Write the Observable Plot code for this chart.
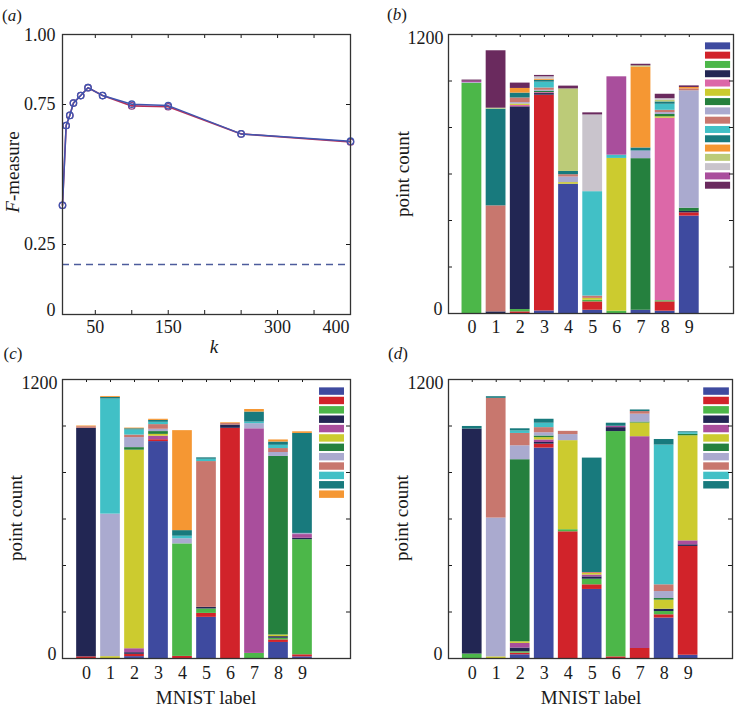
<!DOCTYPE html>
<html><head><meta charset="utf-8">
<script src="https://cdn.jsdelivr.net/npm/d3@7"></script>
<script src="https://cdn.jsdelivr.net/npm/@observablehq/plot@0.6"></script>
<style>
body{margin:0;background:#fff;}
#root{position:relative;width:737px;height:706px;font-family:'Liberation Serif',serif;color:#1a1a1a;overflow:hidden;background:#fff}
#root svg, #root svg text{font-family:'Liberation Serif',serif !important}
.pl{position:absolute}
.lab{position:absolute;white-space:nowrap;line-height:1;transform:translate(-50%,-50%);font-family:'Liberation Serif',serif}
.rot{transform:translate(-50%,-50%) rotate(-90deg)}
</style></head><body><div id="root"></div>
<script>
// ---------- Panel (a) data ----------
const kValues = [5, 10, 15, 20, 30, 40, 60, 100, 150, 250, 400];
const fMeasureBlue = [0.390, 0.675, 0.711, 0.755, 0.782, 0.810, 0.782, 0.751, 0.746, 0.645, 0.619];
const fMeasureRed  = [0.390, 0.675, 0.711, 0.755, 0.782, 0.810, 0.782, 0.745, 0.742, 0.645, 0.616];
const fBaseline = 0.179;
const kTickLabels = [50, 150, 300];
const kTickLast = [400];
const kMinorTicks = [50, 100, 150, 200, 250, 300, 350];
const fTicks = [0.25, 0.75];

// ---------- Panels (b)-(d) data ----------
const digits = [0, 1, 2, 3, 4, 5, 6, 7, 8, 9];
const countTicks = [200, 400, 600, 800, 1000];
const colorsB = ["#3e4a9f","#d1232a","#4cb749","#222653","#dc68a8","#cccb2f","#25803e","#aaaacf",
                 "#c8776e","#41c0c6","#187a7d","#f59733","#bccb78","#c9c4cc","#a94e9c","#6a2a5e"];
const colorsC = ["#3e4a9f","#d1232a","#4cb749","#222653","#a94e9c","#cccb2f","#25803e","#aaaacf",
                 "#c8776e","#41c0c6","#187a7d","#f59733"];
const colorsD = ["#3e4a9f","#d1232a","#4cb749","#222653","#a94e9c","#cccb2f","#25803e","#aaaacf",
                 "#c8776e","#41c0c6","#187a7d"];
// rows: MNIST digit 0..9, columns: cluster index (stack order bottom -> top)
const countsB = [
  [0,0,990,0,0,0,0,3,0,0,0,0,0,0,6,5],
  [0,0,0,7,0,0,0,0,456,0,416,0,4,0,0,247],
  [0,7,10,872,6,6,0,6,20,0,21,20,0,0,0,23],
  [11,928,0,7,4,0,6,4,10,25,8,5,0,10,0,6],
  [556,0,0,0,0,7,0,24,10,0,14,0,355,0,0,12],
  [14,36,7,0,0,8,0,0,10,449,0,0,0,330,0,9],
  [0,0,10,0,0,657,0,0,0,14,0,0,0,0,337,0],
  [14,0,0,0,0,0,652,33,0,0,13,348,5,0,0,7],
  [10,40,5,0,785,6,10,8,10,26,10,0,7,7,0,19],
  [419,14,0,6,0,0,14,505,8,0,0,6,0,0,0,7]
];
const countsC = [
  [0,7,0,983,0,0,0,0,7,0,0,3],
  [0,0,0,0,0,8,0,613,0,495,7,4],
  [8,10,0,7,17,854,11,43,11,22,5,3],
  [933,8,0,0,15,8,12,10,20,10,8,5],
  [0,9,484,0,0,0,0,22,0,11,24,430],
  [177,17,19,7,0,0,0,0,627,10,6,0],
  [0,990,0,14,0,0,0,0,7,0,0,3],
  [0,0,22,0,966,0,0,22,0,7,43,11],
  [69,11,7,7,0,7,768,17,17,14,14,9],
  [7,9,495,6,16,0,0,5,0,0,430,7]
];
const countsD = [
  [0,0,19,968,0,0,0,0,0,0,11],
  [0,0,0,0,0,7,0,597,515,0,7],
  [16,7,6,16,20,7,783,60,53,11,9],
  [905,17,0,7,11,10,7,14,22,19,17],
  [0,545,9,0,0,383,0,26,14,0,0],
  [297,20,24,10,8,7,0,0,4,0,492],
  [0,7,969,17,6,0,0,0,0,0,13],
  [0,43,0,0,911,59,4,34,11,0,7],
  [174,14,14,10,0,39,7,30,29,601,24],
  [14,468,0,7,17,452,6,0,0,7,4]
];

const FONT = "'Liberation Serif', serif";
const INK = "#1a1a1a";
const root = document.getElementById("root");

function place(node, left, top) {
  node.classList.add("pl");
  node.style.left = left + "px";
  node.style.top = top + "px";
  root.appendChild(node);
}
function label(html, cx, cy, size, rotate) {
  const d = document.createElement("div");
  d.className = "lab" + (rotate ? " rot" : "");
  d.innerHTML = html;
  d.style.left = cx + "px";
  d.style.top = cy + "px";
  d.style.fontSize = size + "px";
  root.appendChild(d);
}
const AX = {tickSize: 0, label: null, fontFamily: FONT, fontSize: 18, fill: INK};

// ---------- Panel (a) ----------
{
  const W = 370, H = 360, mL = 62, mR = 20, mT = 34, mB = 46;
  const fw = W - mL - mR, fh = H - mT - mB;
  const rows = kValues.map((k, i) => ({k, blue: fMeasureBlue[i], red: fMeasureRed[i]}));
  const p = Plot.plot({
    width: W, height: H, marginLeft: mL, marginRight: mR, marginTop: mT, marginBottom: mB,
    x: {domain: [5, 400], label: null},
    y: {domain: [0, 1], label: null},
    style: {fontFamily: FONT, fontSize: "18px", color: INK, background: "transparent", overflow: "visible"},
    marks: [
      Plot.ruleY([fBaseline], {stroke: "#4d5c9c", strokeWidth: 1.5, strokeDasharray: "7,5"}),
      Plot.line(rows, {x: "k", y: "red", stroke: "#b8305a", strokeWidth: 1.6}),
      Plot.dot(rows, {x: "k", y: "red", r: 3.2, stroke: "#8a3a80", strokeWidth: 1.3, fill: "none"}),
      Plot.line(rows, {x: "k", y: "blue", stroke: "#3f56b0", strokeWidth: 1.5}),
      Plot.dot(rows, {x: "k", y: "blue", r: 3.2, stroke: "#3f56b0", strokeWidth: 1.3, fill: "none"}),
      Plot.tickY(fTicks, {y: d => d, stroke: INK, insetRight: fw - 4}),
      Plot.tickY(fTicks, {y: d => d, stroke: INK, insetLeft: fw - 4}),
      Plot.tickX(kMinorTicks, {x: d => d, stroke: INK, insetTop: fh - 4}),
      Plot.tickX(kMinorTicks, {x: d => d, stroke: INK, insetBottom: fh - 4}),
      Plot.frame({stroke: "#333", strokeWidth: 1.3}),
      Plot.axisY(fTicks, {...AX, tickPadding: 7, tickFormat: d3.format(".2f")}),
      Plot.axisY([0], {...AX, tickPadding: 7, tickFormat: d => "0", dy: -4}),
      Plot.axisY([1], {...AX, tickPadding: 7, tickFormat: d => "1.00", dy: 1}),
      Plot.axisX(kTickLabels, {...AX, tickPadding: 6, tickFormat: d => String(d)}),
      Plot.axisX(kTickLast, {...AX, tickPadding: 6, textAnchor: "end", dx: -1, tickFormat: d => String(d)})
    ]
  });
  place(p, 0, 0);
}

// ---------- Stacked bar panels ----------
function barPanel(o) {
  const {counts, colors, xDomain, legendX, legendTop, legendStep, legendH,
         W, H, mL, mR, mT, mB, left, top} = o;
  const fw = W - mL - mR, fh = H - mT - mB;
  const rows = [];
  counts.forEach((row, d) => row.forEach((v, c) => { if (v > 0) rows.push({digit: d, cluster: c, count: v}); }));
  const legend = colors.map((col, i) => ({i, col}));
  const p = Plot.plot({
    width: W, height: H, marginLeft: mL, marginRight: mR, marginTop: mT, marginBottom: mB,
    x: {domain: xDomain, label: null},
    y: {domain: [0, 1200], label: null},
    style: {fontFamily: FONT, fontSize: "18px", color: INK, background: "transparent", overflow: "visible"},
    marks: [
      Plot.rectY(rows, {x1: d => d.digit - 0.41, x2: d => d.digit + 0.41, y: "count",
                        fill: d => colors[d.cluster]}),
      Plot.rect(legend, {x1: legendX[0], x2: legendX[1],
                         y2: d => legendTop - d.i * legendStep,
                         y1: d => legendTop - d.i * legendStep - legendH,
                         fill: d => d.col}),
      Plot.tickY(countTicks, {y: d => d, stroke: INK, insetRight: fw - 4}),
      Plot.tickY(countTicks, {y: d => d, stroke: INK, insetLeft: fw - 4}),
      Plot.tickX(digits, {x: d => d, stroke: INK, insetBottom: fh - 3}),
      Plot.frame({stroke: "#333", strokeWidth: 1.3}),
      Plot.axisY([0], {...AX, tickPadding: 6, dy: -4, tickFormat: d => String(d)}),
      Plot.axisY([1200], {...AX, tickPadding: 5, dy: 4, tickFormat: d => String(d)}),
      Plot.axisX(digits, {...AX, tickPadding: o.xPad, tickFormat: d => String(d)})
    ]
  });
  place(p, left, top);
}

barPanel({counts: countsB, colors: colorsB, xDomain: [-0.97, 10.83], legendX: [9.67, 10.71],
          legendTop: 1164, legendStep: 39.96, legendH: 30,
          W: 367, H: 360, mL: 78, mR: 4, mT: 34, mB: 47, left: 370, top: 0, xPad: 7});
barPanel({counts: countsC, colors: colorsC, xDomain: [-1, 11], legendX: [9.71, 10.75],
          legendTop: 1164, legendStep: 40.3, legendH: 32,
          W: 370, H: 361, mL: 62, mR: 20, mT: 34, mB: 48, left: 0, top: 345, xPad: 8});
barPanel({counts: countsD, colors: colorsD, xDomain: [-0.99, 10.85], legendX: [9.65, 10.72],
          legendTop: 1164, legendStep: 40.3, legendH: 32,
          W: 367, H: 361, mL: 78, mR: 5, mT: 34, mB: 48, left: 370, top: 345, xPad: 8});

// ---------- Text labels ----------
label("(<i>a</i>)", 12, 15, 17);
label("(<i>b</i>)", 397, 14, 17);
label("(<i>c</i>)", 13, 353, 17);
label("(<i>d</i>)", 398, 353, 17);
label("<i>F</i>-measure", 12, 172, 19, true);
label("<i>k</i>", 214, 346, 19);
label("point count", 402, 174, 19, true);
label("point count", 15, 518, 19, true);
label("point count", 401, 518, 19, true);
label("MNIST label", 206, 697, 19);
label("MNIST label", 591, 697, 19);
</script></body></html>
